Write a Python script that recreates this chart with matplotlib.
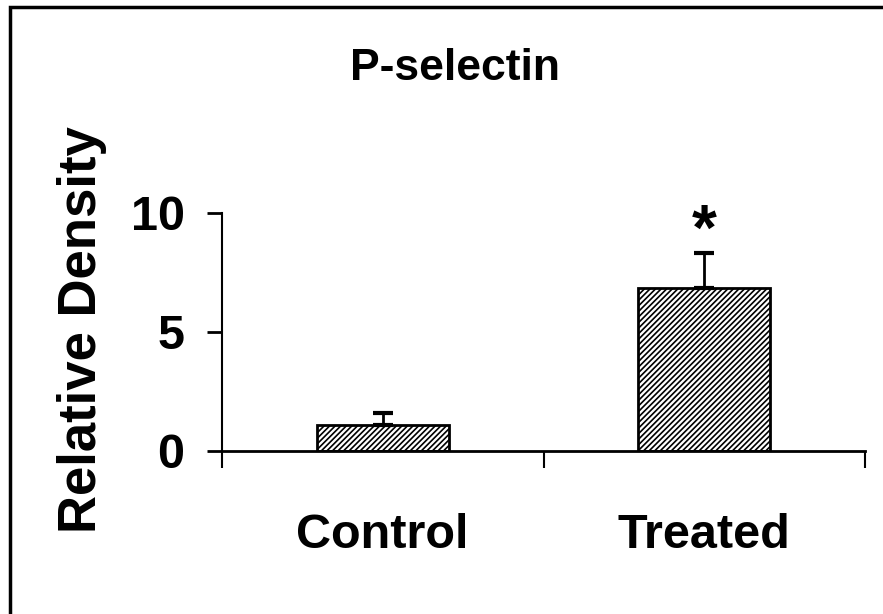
import matplotlib
matplotlib.use("Agg")
import matplotlib.pyplot as plt
from matplotlib.patches import Rectangle

categories = ["Control", "Treated"]
values = [1.1, 6.85]
errors = [0.5, 1.45]
yticks = [0, 5, 10]
title = "P-selectin"
ylabel = "Relative Density"

plt.rcParams['font.family'] = ['Liberation Sans', 'DejaVu Sans']
plt.rcParams['hatch.linewidth'] = 1.2

W, H = 883, 614
fig = plt.figure(figsize=(W / 100, H / 100), dpi=100)
ax = fig.add_axes([222 / W, 1 - 451 / H, (865 - 222) / W, (451 - 213) / H])

pos = [i + 0.5 for i in range(len(categories))]
ax.bar(pos, values, width=0.41, color="white", edgecolor="black",
       linewidth=2, hatch="//////", zorder=2)
ax.errorbar(pos, values, yerr=[[0] * len(errors), errors], fmt="none",
            ecolor="black", elinewidth=2, capsize=7, capthick=3, zorder=3)
ax.text(pos[1], values[1] + errors[1] + 0.85, "*", ha="center", va="center",
        fontsize=46, fontweight="bold")

ax.set_xlim(0, len(categories))
ax.set_ylim(0, 10)
ax.set_xticks(range(len(categories) + 1))
ax.set_xticklabels([])
ax.set_xticks(pos, minor=True)
ax.set_xticklabels(categories, minor=True, fontsize=35, fontweight="bold")
ax.tick_params(axis="x", which="major", direction="out", length=12, width=1.5)
ax.tick_params(axis="x", which="minor", length=0, pad=45)
ax.set_yticks(yticks)
ax.set_yticklabels([str(t) for t in yticks], fontsize=35, fontweight="bold")
ax.tick_params(axis="y", direction="out", length=11, width=2, pad=16)

for s in ["top", "right"]:
    ax.spines[s].set_visible(False)
ax.spines["left"].set_linewidth(1.5)
ax.spines["bottom"].set_linewidth(2)

fig.text(455 / W, 1 - 68 / H, title, ha="center", va="center",
         fontsize=32, fontweight="bold")
fig.text(82 / W, 1 - 330 / H, ylabel, ha="center", va="center",
         rotation=90, fontsize=38, fontweight="bold")

fig.patches.append(Rectangle((10 / W, -0.1), 1.2, 1 - 7 / H + 0.1,
                             transform=fig.transFigure, fill=False,
                             edgecolor="black", linewidth=2.5))

fig.savefig("out.png", dpi=100)
